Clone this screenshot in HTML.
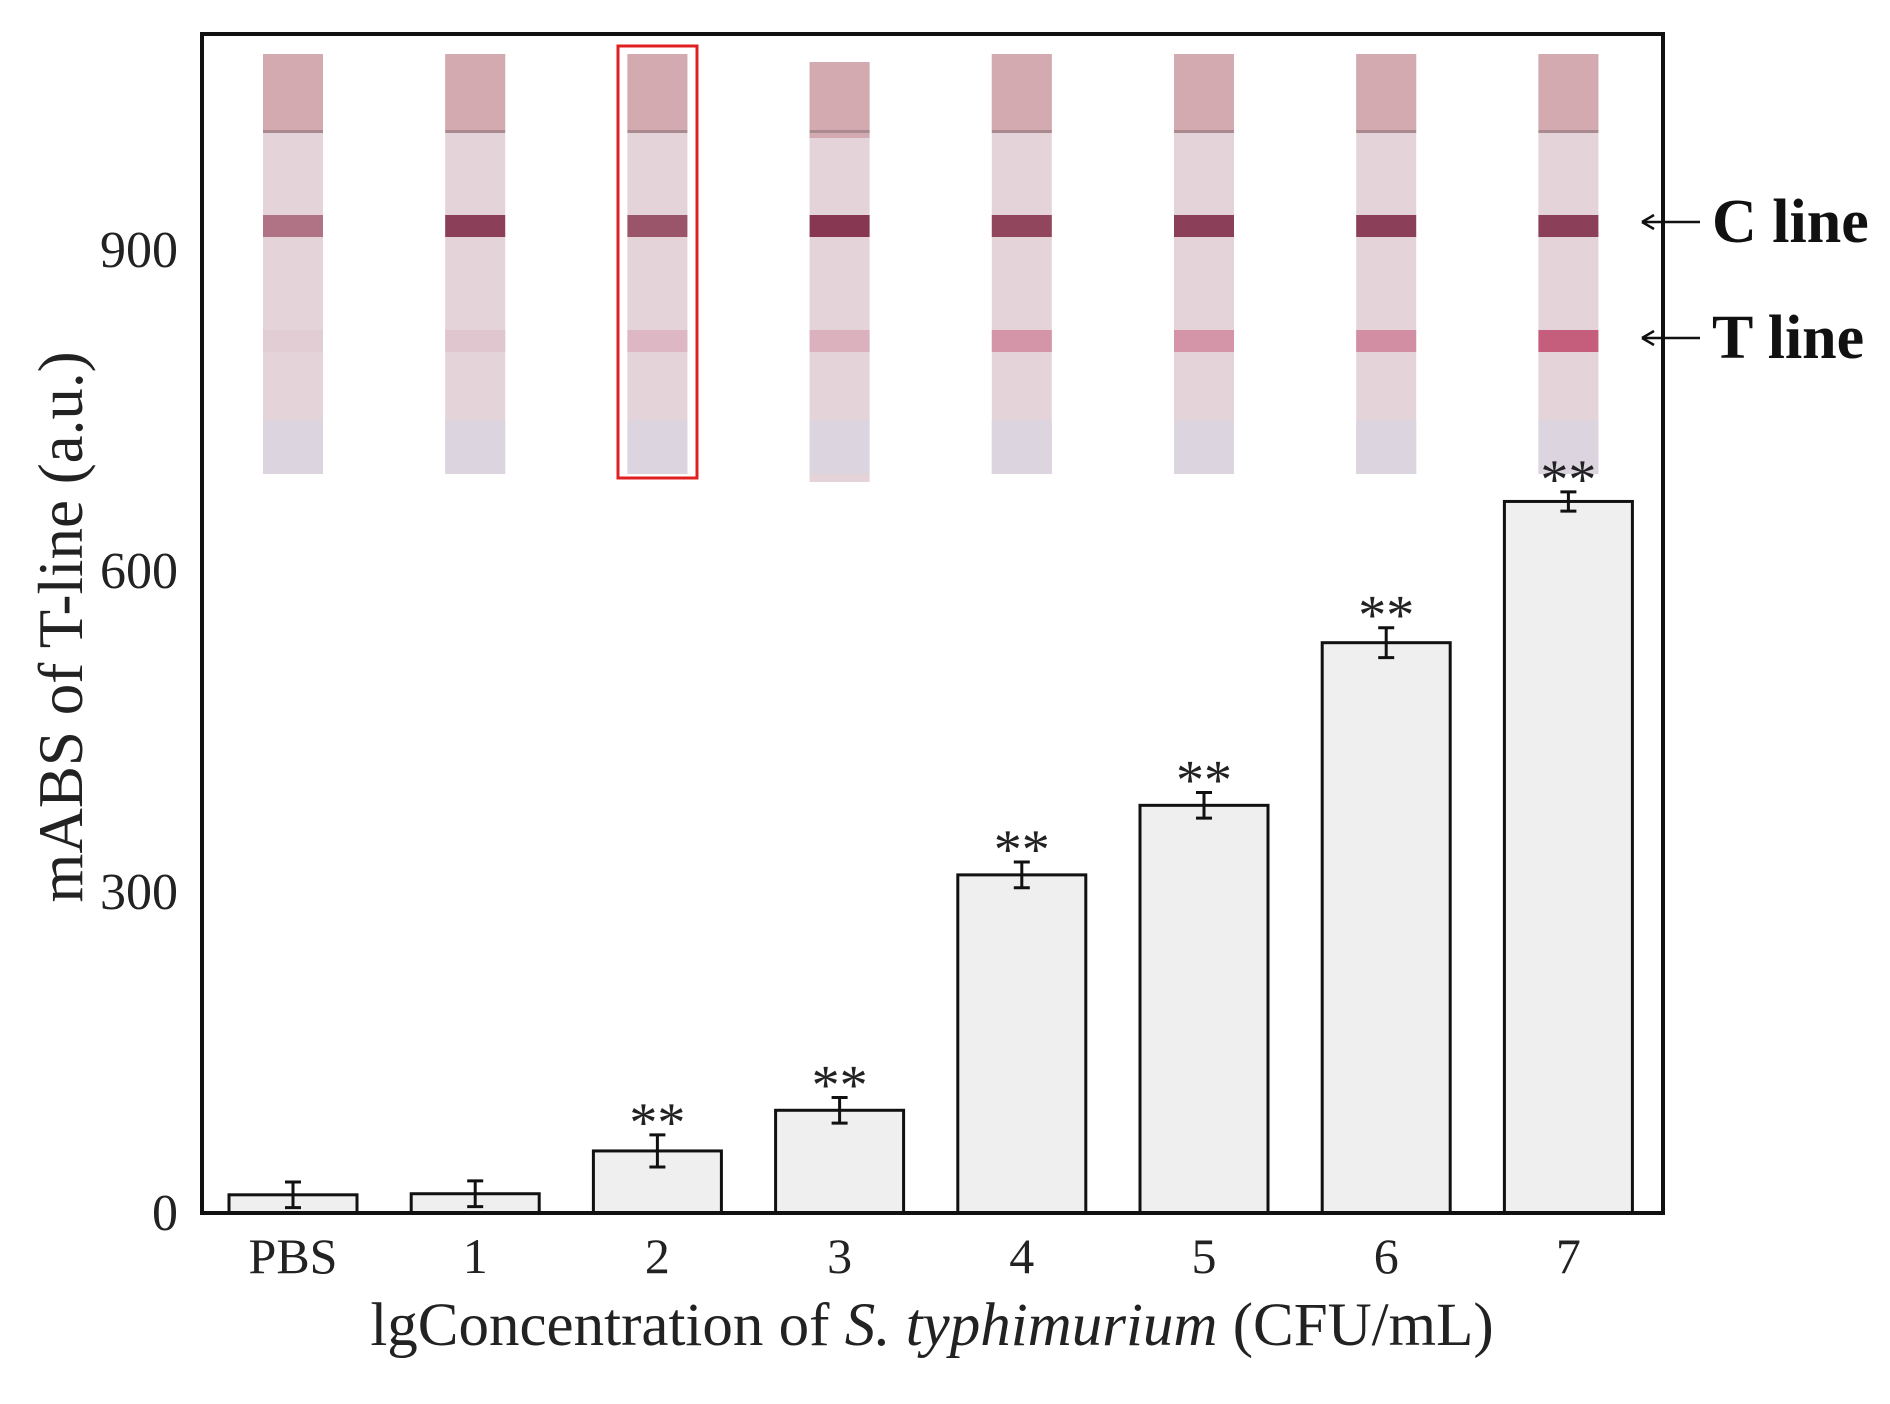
<!DOCTYPE html>
<html><head><meta charset="utf-8"><style>
html,body{margin:0;padding:0;background:#fff;}
svg{display:block;font-family:"Liberation Serif",serif;}
</style></head><body>
<svg id="chart" width="1890" height="1404" viewBox="0 0 1890 1404"></svg>
<script>
const categories = ["PBS","1","2","3","4","5","6","7"];
const values = [17, 18, 58, 96, 316, 381, 533, 665];
const errors = [12, 12, 15, 12, 12, 12, 14, 9];
const significant = [false, false, true, true, true, true, true, true];
const yTicks = [0, 300, 600, 900];
const tLineIntensity = [0.0, 0.05, 0.15, 0.2, 0.4, 0.4, 0.45, 0.8];
const cLineIntensity = [0.5, 0.85, 0.7, 0.9, 0.8, 0.85, 0.85, 0.85];

const NS = "http://www.w3.org/2000/svg";
const svg = document.getElementById("chart");
const L = 202, R = 1663, T = 34, B = 1213;
const y0 = 1213, perUnit = 321/300;
const yScale = v => y0 - v * perUnit;
const xScale = i => 293 + i * 182.2;
const barW = 128;

function mk(tag, attrs, parent) {
  const el = document.createElementNS(NS, tag);
  for (const k in attrs) el.setAttribute(k, attrs[k]);
  (parent || svg).appendChild(el);
  return el;
}

const strips = mk("g", {});


categories.forEach((c, i) => {
  const cx = xScale(i);
  const g = mk("g", {}, strips);
  
  
  const top = i === 3 ? 62 : 54;
  mk("rect", {x: cx - 30, y: top, width: 60, height: 420, fill: "#e4d3d8"}, g);
  mk("rect", {x: cx - 30, y: top, width: 60, height: 76, fill: "#d2aab0"}, g);
  mk("rect", {x: cx - 30, y: 130, width: 60, height: 3, fill: "#a98a8e"}, g);
  mk("rect", {x: cx - 30, y: 420, width: 60, height: 54, fill: "#dcd5e0"}, g);
  const ci = cLineIntensity[i];
  mk("rect", {x: cx - 30, y: 215, width: 60, height: 22, fill: "rgb(" + Math.round(225 - 100*ci) + "," + Math.round(190 - 150*ci) + "," + Math.round(198 - 130*ci) + ")"}, g);
  const ti = tLineIntensity[i];
  mk("rect", {x: cx - 30, y: 330, width: 60, height: 22, fill: "rgb(" + Math.round(226 - 36*ti) + "," + Math.round(205 - 140*ti) + "," + Math.round(212 - 110*ti) + ")"}, g);
});
const box = mk("rect", {x: 618, y: 46, width: 79, height: 432, fill: "none", stroke: "#e02020", "stroke-width": 3});



categories.forEach((c, i) => {
  const cx = xScale(i), yv = yScale(values[i]);
  const r = mk("rect", {x: cx - barW/2, y: yv, width: barW, height: y0 - yv, fill: "#efefef", stroke: "#111", "stroke-width": 3});
  
  
  const e1 = yScale(values[i] + errors[i]), e2 = yScale(values[i] - errors[i]);
  const eb = mk("path", {d: `M${cx},${e1}V${e2}M${cx-8},${e1}H${cx+8}M${cx-8},${e2}H${cx+8}`, stroke: "#111", "stroke-width": 3, fill: "none"});
  
  
  if (significant[i]) {
    const s = mk("text", {x: cx, y: e1 + 6, "text-anchor": "middle", "font-size": 56, fill: "#222"});
    s.textContent = "**";
    
    
  }
  const t = mk("text", {x: cx, y: 1273, "text-anchor": "middle", "font-size": 50, fill: "#222"});
  t.textContent = c;
  
  
});

const fr = mk("rect", {x: L, y: T, width: R - L, height: B - T, fill: "none", stroke: "#111", "stroke-width": 4});



yTicks.forEach(v => {
  const t = mk("text", {x: 178, y: yScale(v) + 17, "text-anchor": "end", "font-size": 52, fill: "#222"});
  t.textContent = v;
  
  
});
</script>
<svg style="position:absolute;left:0;top:0" width="1890" height="1404" font-family="Liberation Serif, serif">
  <text x="0" y="0" transform="translate(82,627) rotate(-90)" text-anchor="middle" font-size="63" fill="#222">mABS of T-line (a.u.)</text>
  <text x="932" y="1345" text-anchor="middle" font-size="61" fill="#222">lgConcentration of <tspan font-style="italic">S. typhimurium</tspan> (CFU/mL)</text>
  <g>
    <path d="M1642,222H1700M1642,222l12,-7M1642,222l12,7" stroke="#111" stroke-width="2.5" fill="none"/>
    <text x="1712" y="242" font-size="62" font-weight="bold" fill="#111">C line</text>
  </g>
  <g>
    <path d="M1642,338H1700M1642,338l12,-7M1642,338l12,7" stroke="#111" stroke-width="2.5" fill="none"/>
    <text x="1712" y="358" font-size="62" font-weight="bold" fill="#111">T line</text>
  </g>
</svg>
</body></html>
